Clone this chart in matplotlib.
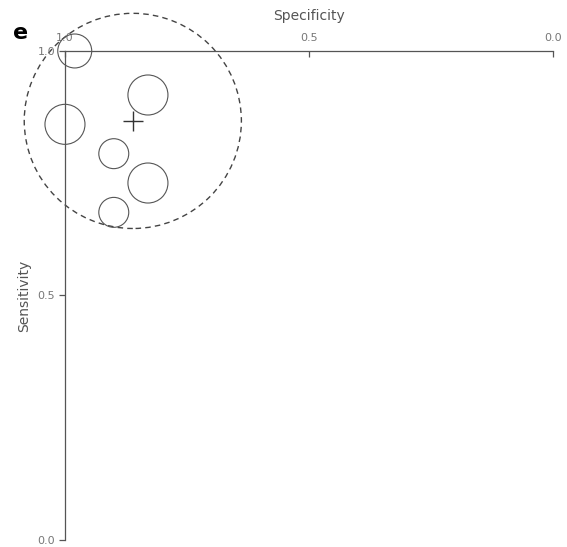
import matplotlib
matplotlib.use("Agg")
import matplotlib.pyplot as plt
from matplotlib.patches import Ellipse

# study estimates
specificity = [0.98, 0.83, 1.00, 0.90, 0.83, 0.90]
sensitivity = [1.00, 0.91, 0.85, 0.79, 0.73, 0.67]
study_weight = [0.72, 1.0, 1.0, 0.56, 1.0, 0.56]

# summary point and 95% confidence region
summary_spec = 0.861
summary_sens = 0.857
region_width = 0.445
region_height = 0.44

ticks = [0.0, 0.5, 1.0]
tick_labels = ["0.0", "0.5", "1.0"]

fig = plt.figure(figsize=(5.67, 5.47), dpi=100)
ax = fig.add_axes([0.1146, 0.0128, 0.8607, 0.894])

ax.scatter(specificity, sensitivity, s=[830 * w for w in study_weight],
           facecolors="none", edgecolors="#555555", linewidths=0.8,
           clip_on=False, zorder=3)
ax.plot(summary_spec, summary_sens, marker="+", markersize=15,
        color="#333333", mew=1.0, clip_on=False, zorder=4)
ax.add_patch(Ellipse((summary_spec, summary_sens), region_width, region_height,
                     fill=False, ls=(0, (4, 3)), lw=1.0, ec="#444444",
                     clip_on=False))

ax.set_xlim(1.0, 0.0)
ax.set_ylim(0.0, 1.0)
ax.xaxis.tick_top()
ax.xaxis.set_label_position("top")
ax.set_xticks(ticks)
ax.set_xticklabels(tick_labels)
ax.set_yticks(ticks)
ax.set_yticklabels(tick_labels)

for side in ["right", "bottom"]:
    ax.spines[side].set_visible(False)
for side in ["top", "left"]:
    ax.spines[side].set_color("#555555")
    ax.spines[side].set_linewidth(0.9)

ax.tick_params(axis="x", direction="in", length=4, width=0.9, pad=6,
               labelsize=8, colors="#555555", labelcolor="#777777")
ax.tick_params(axis="y", direction="out", length=4, width=0.9, pad=3,
               labelsize=8, colors="#555555", labelcolor="#777777")

ax.set_xlabel("Specificity", fontsize=10, color="#555555", labelpad=9)
ax.set_ylabel("Sensitivity", fontsize=10, color="#555555", labelpad=5)

fig.text(0.023, 0.928, "e", fontsize=16, fontweight="bold", color="black")

fig.savefig("out.png", dpi=100)
